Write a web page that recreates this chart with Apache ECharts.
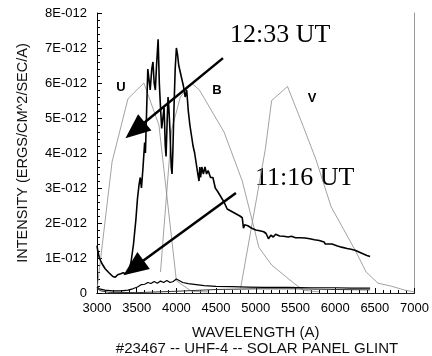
<!DOCTYPE html>
<html>
<head>
<meta charset="utf-8">
<script src="https://cdn.jsdelivr.net/npm/echarts@6/dist/echarts.min.js"></script>
<style>
  html, body { margin: 0; padding: 0; background: #fff; }
  #chart { width: 432px; height: 356px; }
</style>
</head>
<body>
<div id="chart"></div>
<script>
// intensity values are in units of 1E-012 ergs/cm^2/sec/A
const mainWl = [3000, 3010, 3030, 3060, 3100, 3150, 3200, 3230, 3260, 3300, 3330, 3360, 3400, 3430, 3460, 3490, 3510, 3530, 3545, 3560, 3580, 3600, 3610, 3625, 3640, 3655, 3670, 3690, 3705, 3720, 3735, 3750, 3770, 3785, 3800, 3815, 3830, 3845, 3860, 3870, 3885, 3895, 3905, 3920, 3935, 3945, 3955, 3970, 3985, 4000, 4015, 4030, 4050, 4070, 4090, 4110, 4130, 4150, 4170, 4190, 4210, 4230, 4250, 4270, 4285, 4295, 4305, 4320, 4340, 4360, 4380, 4400, 4430, 4460, 4490, 4520, 4560, 4600, 4640, 4680, 4720, 4760, 4800, 4830, 4845, 4860, 4900, 4950, 5000, 5050, 5100, 5130, 5160, 5190, 5220, 5250, 5300, 5350, 5410, 5450, 5500, 5560, 5620, 5680, 5740, 5800, 5860, 5875, 5900, 5960, 6020, 6080, 6150, 6200, 6250, 6300, 6350, 6400, 6440];
const mainVal = [1.35, 1.2, 1.0, 0.85, 0.7, 0.58, 0.47, 0.45, 0.52, 0.55, 0.58, 0.55, 0.6, 0.9, 1.4, 2.1, 2.7, 3.1, 3.3, 3.0, 3.6, 4.3, 4.0, 5.2, 6.4, 6.1, 5.8, 6.4, 6.6, 6.0, 5.8, 6.5, 7.25, 6.0, 5.3, 4.7, 5.0, 5.3, 4.2, 3.9, 5.0, 5.6, 5.3, 4.6, 3.6, 3.4, 4.0, 5.3, 6.4, 7.0, 6.8, 6.5, 6.3, 6.1, 5.9, 5.6, 5.8, 5.2, 4.8, 4.5, 4.2, 4.0, 3.7, 3.4, 3.2, 3.6, 3.3, 3.6, 3.4, 3.6, 3.4, 3.5, 3.3, 3.3, 3.0, 2.9, 2.75, 2.6, 2.4, 2.35, 2.3, 2.25, 2.2, 2.15, 1.85, 1.95, 1.92, 1.85, 1.8, 1.78, 1.75, 1.7, 1.55, 1.65, 1.6, 1.68, 1.63, 1.62, 1.6, 1.62, 1.58, 1.58, 1.57, 1.55, 1.52, 1.5, 1.46, 1.4, 1.44, 1.4, 1.35, 1.31, 1.27, 1.25, 1.22, 1.17, 1.12, 1.07, 1.04];

const earlyWl = [3000, 3030, 3100, 3200, 3300, 3390, 3450, 3510, 3560, 3600, 3640, 3680, 3720, 3760, 3800, 3840, 3880, 3920, 3960, 4000, 4040, 4080, 4150, 4250, 4350, 4500, 4700, 4900, 5100, 5400, 5700, 6000, 6200, 6440];
const earlyVal = [0.17, 0.12, 0.08, 0.06, 0.06, 0.08, 0.12, 0.17, 0.24, 0.25, 0.3, 0.27, 0.33, 0.28, 0.34, 0.3, 0.36, 0.3, 0.33, 0.4, 0.35, 0.3, 0.27, 0.24, 0.21, 0.19, 0.18, 0.17, 0.16, 0.16, 0.15, 0.15, 0.14, 0.14];

const floorWl = [3000, 3050, 3150, 3500, 4000, 4500, 5000, 5500, 6000, 6440];
const floorVal = [0.12, 0.06, 0.02, 0.01, 0.05, 0.1, 0.12, 0.12, 0.1, 0.09];

const uWl = [3000, 3190, 3390, 3590, 3780, 4000, 4190, 4400];
const uVal = [0.1, 3.75, 5.55, 6.0, 4.8, 0.35, 0.05, 0.03];
const bWl = [3800, 3940, 4050, 4190, 4290, 4600, 4830, 5040, 5200, 5480, 5600, 5800];
const bVal = [0.6, 4.66, 5.6, 6.0, 5.8, 4.6, 3.2, 1.3, 0.8, 0.28, 0.08, 0.03];
const vWl = [4810, 5120, 5200, 5400, 5600, 5760, 5950, 6250, 6390, 6540, 6700, 6880, 7000];
const vVal = [0.15, 4.1, 5.5, 5.9, 4.75, 3.8, 2.46, 1.23, 0.6, 0.28, 0.2, 0.08, 0.03];

// annotation arrows: [start, head] in data coords
const arrowLate = [[4587, 6.71], [3480, 4.65]];
const arrowEarly = [[4750, 2.86], [3460, 0.72]];

const pairs = (xs, ys) => xs.map((x, i) => [x, ys[i]]);
const font = 'Liberation Sans, Arial, sans-serif';

const chart = echarts.init(document.getElementById('chart'));

const thin = (name, xs, ys) => ({
  name, type: 'line', data: pairs(xs, ys), showSymbol: false, silent: true,
  lineStyle: { color: '#8a8a8a', width: 0.8 }, z: 2
});

chart.setOption({
  animation: false,
  backgroundColor: '#fff',
  grid: { left: 97, right: 14, top: 13, bottom: 63 },
  xAxis: [{
    type: 'value', min: 3000, max: 7000, interval: 500,
    name: 'WAVELENGTH (A)', nameLocation: 'middle', nameGap: 32,
    nameTextStyle: { fontFamily: font, fontSize: 15, color: '#111' },
    axisLine: { lineStyle: { color: '#000', width: 1 } },
    axisTick: { inside: true, length: 5, lineStyle: { color: '#000' } },
    minorTick: { show: true, splitNumber: 5, length: 3, lineStyle: { color: '#000' } },
    splitLine: { show: false },
    axisLabel: { margin: 9, fontFamily: font, fontSize: 13, color: '#000', formatter: v => String(v) }
  }, {
    type: 'value', position: 'top', min: 3000, max: 7000,
    axisLine: { lineStyle: { color: '#222' } },
    axisTick: { show: false }, axisLabel: { show: false }, splitLine: { show: false }
  }],
  yAxis: [{
    type: 'value', min: 0, max: 8, interval: 1,
    name: 'INTENSITY (ERGS/CM^2/SEC/A)', nameLocation: 'middle', nameGap: 67,
    nameTextStyle: { fontFamily: font, fontSize: 14.5, color: '#111' },
    axisLine: { show: true, lineStyle: { color: '#000', width: 1 } },
    axisTick: { inside: true, length: 5, lineStyle: { color: '#000' } },
    minorTick: { show: true, splitNumber: 5, length: 3, lineStyle: { color: '#000' } },
    splitLine: { show: false },
    axisLabel: {
      margin: 10, fontFamily: font, fontSize: 13, color: '#000',
      formatter: v => v === 0 ? '0' : v + 'E-012'
    }
  }, {
    type: 'value', position: 'right', min: 0, max: 8,
    axisLine: { show: true, lineStyle: { color: '#999' } },
    axisTick: { show: false }, axisLabel: { show: false }, splitLine: { show: false }
  }],
  series: [
    thin('U', uWl, uVal),
    thin('B', bWl, bVal),
    thin('V', vWl, vVal),
    {
      name: 'floor', type: 'line', data: pairs(floorWl, floorVal), showSymbol: false,
      lineStyle: { color: '#333', width: 1 }, z: 3
    },
    {
      name: '11:16 UT', type: 'line', data: pairs(earlyWl, earlyVal), showSymbol: false,
      lineStyle: { color: '#000', width: 1.2 }, z: 4
    },
    {
      name: '12:33 UT', type: 'line', data: pairs(mainWl, mainVal), showSymbol: false,
      lineStyle: { color: '#000', width: 1.6 }, z: 5,
      markLine: {
        silent: true, animation: false,
        symbol: ['none', 'triangle'], symbolSize: [21, 25],
        label: { show: false },
        lineStyle: { color: '#000', width: 2.5, type: 'solid' },
        data: [
          [{ coord: arrowLate[0] }, { coord: arrowLate[1] }],
          [{ coord: arrowEarly[0] }, { coord: arrowEarly[1] }]
        ]
      }
    }
  ],
  graphic: [
    { type: 'text', left: 230, top: 22, style: { text: '12:33 UT', font: '26px "Liberation Serif", serif', fill: '#000' } },
    { type: 'text', left: 255, top: 165, style: { text: '11:16 UT', font: '26px "Liberation Serif", serif', fill: '#000' } },
    { type: 'text', x: 121, y: 87, style: { text: 'U', font: 'bold 13px ' + font, fill: '#000', align: 'center', verticalAlign: 'middle' } },
    { type: 'text', x: 217, y: 90, style: { text: 'B', font: 'bold 13px ' + font, fill: '#000', align: 'center', verticalAlign: 'middle' } },
    { type: 'text', x: 312, y: 98, style: { text: 'V', font: 'bold 13px ' + font, fill: '#000', align: 'center', verticalAlign: 'middle' } },
    { type: 'text', x: 257, y: 349, style: { text: '#23467 -- UHF-4 -- SOLAR PANEL GLINT', font: '15px ' + font, fill: '#111', align: 'center', verticalAlign: 'middle' } }
  ]
});
</script>
</body>
</html>
